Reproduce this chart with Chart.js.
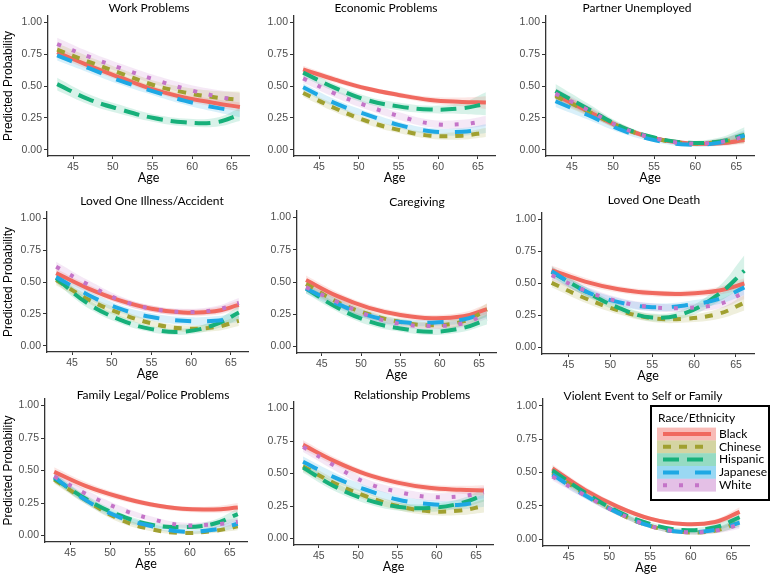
<!DOCTYPE html>
<html>
<head>
<meta charset="utf-8">
<script src="https://cdn.jsdelivr.net/npm/chart.js@4.4.1/dist/chart.umd.min.js"></script>
<style>
  html, body { margin: 0; padding: 0; background: #fff; }
  #wrap { position: relative; width: 772px; height: 575px; overflow: hidden; }
  #wrap canvas { position: absolute; left: 0; top: 0; }
</style>
</head>
<body>
<div id="wrap"></div>
<script>
// ages at which the predicted curves were read
const ages = [43, 47, 51, 55, 59, 63, 66];
const races = ['Black', 'Chinese', 'Hispanic', 'Japanese', 'White'];
const xTicks = [45, 50, 55, 60, 65];
const yTicks = [0, 0.25, 0.5, 0.75, 1];

// predicted probability (est) and half width of the band (ci), per stressor
const workEst = {
  Black:    [0.765, 0.66, 0.565, 0.475, 0.41, 0.365, 0.335],
  Chinese:  [0.785, 0.69, 0.60, 0.51, 0.45, 0.41, 0.39],
  Hispanic: [0.515, 0.395, 0.315, 0.25, 0.215, 0.215, 0.275],
  Japanese: [0.74, 0.64, 0.54, 0.46, 0.385, 0.33, 0.30],
  White:    [0.83, 0.73, 0.64, 0.555, 0.48, 0.42, 0.385]
};
const workCi = {
  Black:    [0.04, 0.03, 0.025, 0.025, 0.025, 0.03, 0.035],
  Chinese:  [0.05, 0.04, 0.035, 0.035, 0.04, 0.05, 0.065],
  Hispanic: [0.05, 0.04, 0.035, 0.03, 0.03, 0.035, 0.05],
  Japanese: [0.04, 0.035, 0.03, 0.03, 0.03, 0.035, 0.045],
  White:    [0.05, 0.04, 0.035, 0.035, 0.04, 0.05, 0.06]
};

const economicEst = {
  Black:    [0.63, 0.55, 0.48, 0.43, 0.39, 0.375, 0.37],
  Chinese:  [0.445, 0.325, 0.225, 0.155, 0.11, 0.11, 0.135],
  Hispanic: [0.605, 0.485, 0.39, 0.34, 0.315, 0.325, 0.36],
  Japanese: [0.49, 0.365, 0.275, 0.195, 0.145, 0.14, 0.165],
  White:    [0.56, 0.44, 0.345, 0.265, 0.205, 0.20, 0.225]
};
const economicCi = {
  Black:    [0.03, 0.025, 0.02, 0.02, 0.025, 0.035, 0.05],
  Chinese:  [0.03, 0.03, 0.025, 0.025, 0.025, 0.03, 0.035],
  Hispanic: [0.035, 0.03, 0.03, 0.03, 0.03, 0.045, 0.09],
  Japanese: [0.03, 0.03, 0.025, 0.025, 0.025, 0.03, 0.035],
  White:    [0.035, 0.03, 0.03, 0.03, 0.03, 0.035, 0.04]
};

const partnerEst = {
  Black:    [0.43, 0.30, 0.175, 0.09, 0.05, 0.05, 0.075],
  Chinese:  [0.42, 0.30, 0.175, 0.09, 0.05, 0.06, 0.095],
  Hispanic: [0.46, 0.32, 0.18, 0.095, 0.055, 0.065, 0.115],
  Japanese: [0.38, 0.27, 0.155, 0.075, 0.04, 0.055, 0.11],
  White:    [0.44, 0.31, 0.175, 0.09, 0.05, 0.06, 0.10]
};
const partnerCi = {
  Black:    [0.04, 0.03, 0.02, 0.015, 0.015, 0.02, 0.03],
  Chinese:  [0.05, 0.035, 0.025, 0.015, 0.015, 0.025, 0.045],
  Hispanic: [0.055, 0.04, 0.025, 0.015, 0.015, 0.03, 0.06],
  Japanese: [0.045, 0.035, 0.025, 0.015, 0.015, 0.025, 0.045],
  White:    [0.045, 0.035, 0.025, 0.015, 0.015, 0.025, 0.04]
};

const illnessEst = {
  Black:    [0.57, 0.45, 0.355, 0.29, 0.26, 0.27, 0.32],
  Chinese:  [0.515, 0.365, 0.255, 0.175, 0.135, 0.145, 0.195],
  Hispanic: [0.53, 0.33, 0.205, 0.13, 0.11, 0.165, 0.26],
  Japanese: [0.54, 0.40, 0.29, 0.225, 0.195, 0.195, 0.225],
  White:    [0.62, 0.48, 0.36, 0.29, 0.265, 0.28, 0.335]
};
const illnessCi = {
  Black:    [0.035, 0.03, 0.025, 0.025, 0.025, 0.03, 0.035],
  Chinese:  [0.04, 0.03, 0.03, 0.025, 0.025, 0.03, 0.04],
  Hispanic: [0.04, 0.035, 0.03, 0.025, 0.025, 0.035, 0.05],
  Japanese: [0.04, 0.035, 0.03, 0.03, 0.03, 0.035, 0.04],
  White:    [0.04, 0.035, 0.03, 0.025, 0.025, 0.03, 0.04]
};

const caregivingEst = {
  Black:    [0.515, 0.39, 0.30, 0.245, 0.22, 0.235, 0.29],
  Chinese:  [0.485, 0.345, 0.25, 0.19, 0.165, 0.195, 0.285],
  Hispanic: [0.45, 0.30, 0.195, 0.14, 0.115, 0.145, 0.21],
  Japanese: [0.45, 0.33, 0.24, 0.19, 0.185, 0.21, 0.265],
  White:    [0.46, 0.345, 0.24, 0.175, 0.16, 0.18, 0.255]
};
const caregivingCi = {
  Black:    [0.035, 0.03, 0.025, 0.025, 0.025, 0.03, 0.04],
  Chinese:  [0.04, 0.035, 0.03, 0.025, 0.025, 0.035, 0.05],
  Hispanic: [0.04, 0.03, 0.03, 0.025, 0.025, 0.03, 0.04],
  Japanese: [0.04, 0.035, 0.03, 0.025, 0.025, 0.03, 0.04],
  White:    [0.04, 0.035, 0.03, 0.025, 0.025, 0.03, 0.04]
};

const deathEst = {
  Black:    [0.605, 0.515, 0.455, 0.425, 0.42, 0.445, 0.50],
  Chinese:  [0.505, 0.385, 0.29, 0.23, 0.225, 0.265, 0.35],
  Hispanic: [0.59, 0.44, 0.31, 0.235, 0.27, 0.42, 0.60],
  Japanese: [0.595, 0.44, 0.355, 0.315, 0.33, 0.38, 0.47],
  White:    [0.565, 0.445, 0.36, 0.315, 0.31, 0.34, 0.43]
};
const deathCi = {
  Black:    [0.035, 0.03, 0.025, 0.025, 0.025, 0.03, 0.04],
  Chinese:  [0.035, 0.035, 0.03, 0.03, 0.03, 0.04, 0.06],
  Hispanic: [0.045, 0.035, 0.03, 0.03, 0.035, 0.06, 0.12],
  Japanese: [0.04, 0.035, 0.03, 0.03, 0.03, 0.04, 0.06],
  White:    [0.04, 0.035, 0.03, 0.03, 0.03, 0.035, 0.05]
};

const legalEst = {
  Black:    [0.49, 0.38, 0.30, 0.24, 0.205, 0.20, 0.215],
  Chinese:  [0.43, 0.27, 0.13, 0.05, 0.02, 0.035, 0.07],
  Hispanic: [0.44, 0.28, 0.16, 0.085, 0.065, 0.09, 0.165],
  Japanese: [0.45, 0.27, 0.145, 0.075, 0.03, 0.045, 0.09],
  White:    [0.455, 0.32, 0.21, 0.13, 0.08, 0.085, 0.105]
};
const legalCi = {
  Black:    [0.035, 0.03, 0.025, 0.02, 0.02, 0.025, 0.035],
  Chinese:  [0.03, 0.03, 0.025, 0.015, 0.01, 0.015, 0.03],
  Hispanic: [0.035, 0.03, 0.025, 0.02, 0.02, 0.03, 0.045],
  Japanese: [0.035, 0.03, 0.025, 0.02, 0.015, 0.02, 0.03],
  White:    [0.035, 0.03, 0.025, 0.02, 0.02, 0.025, 0.03]
};

const relationshipEst = {
  Black:    [0.72, 0.595, 0.495, 0.43, 0.39, 0.375, 0.37],
  Chinese:  [0.555, 0.425, 0.325, 0.25, 0.21, 0.215, 0.25],
  Hispanic: [0.545, 0.40, 0.30, 0.245, 0.235, 0.27, 0.335],
  Japanese: [0.59, 0.47, 0.375, 0.30, 0.265, 0.26, 0.29],
  White:    [0.705, 0.56, 0.43, 0.36, 0.32, 0.325, 0.355]
};
const relationshipCi = {
  Black:    [0.035, 0.03, 0.025, 0.025, 0.025, 0.03, 0.04],
  Chinese:  [0.04, 0.035, 0.03, 0.03, 0.03, 0.035, 0.05],
  Hispanic: [0.04, 0.035, 0.03, 0.03, 0.03, 0.035, 0.05],
  Japanese: [0.04, 0.035, 0.03, 0.03, 0.03, 0.035, 0.045],
  White:    [0.04, 0.035, 0.03, 0.03, 0.03, 0.035, 0.045]
};

const violentEst = {
  Black:    [0.53, 0.37, 0.245, 0.155, 0.115, 0.13, 0.205],
  Chinese:  [0.50, 0.34, 0.20, 0.10, 0.055, 0.065, 0.13],
  Hispanic: [0.515, 0.35, 0.21, 0.115, 0.07, 0.09, 0.165],
  Japanese: [0.485, 0.33, 0.20, 0.10, 0.055, 0.07, 0.125],
  White:    [0.47, 0.33, 0.20, 0.10, 0.055, 0.065, 0.11]
};
const violentCi = {
  Black:    [0.03, 0.025, 0.02, 0.015, 0.015, 0.02, 0.035],
  Chinese:  [0.03, 0.025, 0.02, 0.015, 0.015, 0.02, 0.035],
  Hispanic: [0.035, 0.025, 0.02, 0.015, 0.015, 0.025, 0.04],
  Japanese: [0.03, 0.025, 0.02, 0.015, 0.015, 0.02, 0.035],
  White:    [0.03, 0.025, 0.02, 0.015, 0.015, 0.02, 0.03]
};

const panels = [
  { title: 'Work Problems', est: workEst, ci: workCi },
  { title: 'Economic Problems', est: economicEst, ci: economicCi },
  { title: 'Partner Unemployed', est: partnerEst, ci: partnerCi },
  { title: 'Loved One Illness/Accident', est: illnessEst, ci: illnessCi },
  { title: 'Caregiving', est: caregivingEst, ci: caregivingCi },
  { title: 'Loved One Death', est: deathEst, ci: deathCi },
  { title: 'Family Legal/Police Problems', est: legalEst, ci: legalCi },
  { title: 'Relationship Problems', est: relationshipEst, ci: relationshipCi },
  { title: 'Violent Event to Self or Family', est: violentEst, ci: violentCi }
];

// plot area of each panel on the page [left, right, top, bottom] and title centre [x, y]
const boxes = [
  [48, 249, 16, 156], [294, 495, 16, 156], [546, 754, 16, 156],
  [47, 248, 212, 352], [297, 496, 211, 353], [542, 754, 213, 354],
  [45, 247, 399, 542], [294, 493, 402, 545], [543, 749, 399, 546]
];
const titlePos = [
  [149, 8], [386, 8], [637, 8],
  [152, 201], [417, 202], [654, 200],
  [153, 395], [412, 395], [643, 396]
];

const colors = {
  Black: '240,105,95',
  Chinese: '160,160,48',
  Hispanic: '23,176,122',
  Japanese: '30,168,228',
  White: '196,116,200'
};
const dashes = {
  Black: [],
  Chinese: [8, 8],
  Hispanic: [16, 8],
  Japanese: [16, 16],
  White: [4, 12]
};

const textFont = 'Lato, "Open Sans", sans-serif';
const tickFont = '"Liberation Sans", Arial, sans-serif';
const wrap = document.getElementById('wrap');

const titlePlugin = {
  id: 'panelTitle',
  afterDraw(chart) {
    const o = chart.options.plugins.panelTitle;
    const ctx = chart.ctx;
    ctx.save();
    ctx.fillStyle = '#000';
    ctx.font = '12px ' + textFont;
    ctx.textAlign = 'center';
    ctx.textBaseline = 'middle';
    ctx.fillText(o.text, o.x, o.y);
    ctx.restore();
  }
};

const legendPlugin = {
  id: 'raceLegend',
  afterDraw(chart) {
    if (!chart.options.plugins.raceLegend.show) return;
    const ctx = chart.ctx;
    ctx.save();
    ctx.fillStyle = '#fff';
    ctx.fillRect(651, 406, 118, 94);
    ctx.strokeStyle = '#000';
    ctx.lineWidth = 2;
    ctx.strokeRect(651, 406, 118, 94);
    ctx.fillStyle = '#000';
    ctx.font = '12px ' + textFont;
    ctx.textBaseline = 'middle';
    ctx.fillText('Race/Ethnicity', 658, 418);
    races.forEach((r, k) => {
      const y = 434 + k * 12.8;
      ctx.fillStyle = 'rgba(' + colors[r] + ',0.45)';
      ctx.fillRect(657, y - 6.4, 59, 12.8);
      ctx.strokeStyle = 'rgb(' + colors[r] + ')';
      ctx.lineWidth = 4;
      ctx.setLineDash(dashes[r]);
      ctx.beginPath();
      ctx.moveTo(663, y);
      ctx.lineTo(711, y);
      ctx.stroke();
      ctx.setLineDash([]);
      ctx.fillStyle = '#000';
      ctx.fillText(r, 719, y);
    });
    ctx.restore();
  }
};

function makeChart(p, i) {
  const [left, right, top, bottom] = boxes[i];
  const firstCol = i % 3 === 0;
  const yw = firstCol ? left : 48;
  const xh = 29;

  const canvas = document.createElement('canvas');
  canvas.width = 772;
  canvas.height = 575;
  wrap.appendChild(canvas);

  const datasets = [];
  races.forEach((r, k) => {
    const est = p.est[r];
    const ci = p.ci[r];
    datasets.push({
      label: r + ' lower',
      data: ages.map((a, j) => ({ x: a, y: est[j] - ci[j] })),
      borderWidth: 0,
      pointRadius: 0,
      fill: false,
      tension: 0.4,
      order: 20
    });
    datasets.push({
      label: r + ' upper',
      data: ages.map((a, j) => ({ x: a, y: est[j] + ci[j] })),
      borderWidth: 0,
      pointRadius: 0,
      fill: '-1',
      backgroundColor: 'rgba(' + colors[r] + ',0.17)',
      tension: 0.4,
      order: 20
    });
    datasets.push({
      label: r,
      data: ages.map((a, j) => ({ x: a, y: est[j] })),
      borderColor: 'rgb(' + colors[r] + ')',
      borderWidth: 4,
      borderDash: dashes[r],
      borderCapStyle: 'butt',
      pointRadius: 0,
      fill: false,
      tension: 0.4,
      order: 4 - k
    });
  });

  new Chart(canvas, {
    type: 'line',
    data: { datasets },
    plugins: [titlePlugin, legendPlugin],
    options: {
      responsive: false,
      animation: false,
      events: [],
      layout: {
        padding: { left: left - yw, right: 772 - right, top: top, bottom: 575 - bottom - xh }
      },
      plugins: {
        legend: { display: false },
        tooltip: { enabled: false },
        filler: { drawTime: 'beforeDatasetsDraw' },
        panelTitle: { text: p.title, x: titlePos[i][0], y: titlePos[i][1] },
        raceLegend: { show: i === 8 }
      },
      scales: {
        x: {
          type: 'linear',
          min: 41.85,
          max: 67.15,
          afterBuildTicks: s => { s.ticks = xTicks.map(v => ({ value: v })); },
          afterFit: s => { s.height = xh; },
          grid: { drawOnChartArea: false, tickLength: 3, color: '#333', tickWidth: 1 },
          border: { display: true, color: '#333', width: 1.3 },
          ticks: { font: { family: tickFont, size: 10.5 }, color: '#4d4d4d', padding: 2, maxRotation: 0 },
          title: { display: true, text: 'Age', font: { family: textFont, size: 12.5 }, color: '#000', padding: 0 }
        },
        y: {
          min: -0.05,
          max: 1.05,
          afterBuildTicks: s => { s.ticks = yTicks.map(v => ({ value: v })); },
          afterFit: s => { s.width = yw; },
          grid: { drawOnChartArea: false, tickLength: 4, color: '#333', tickWidth: 1 },
          border: { display: true, color: '#333', width: 1.3 },
          ticks: {
            font: { family: tickFont, size: 10.5 },
            color: '#4d4d4d',
            padding: 2,
            callback: v => v.toFixed(2)
          },
          title: {
            display: firstCol,
            text: 'Predicted Probability',
            font: { family: tickFont, size: 12 },
            color: '#000',
            padding: { top: 1, bottom: 0 }
          }
        }
      }
    }
  });
}

panels.forEach(makeChart);
</script>
</body>
</html>
